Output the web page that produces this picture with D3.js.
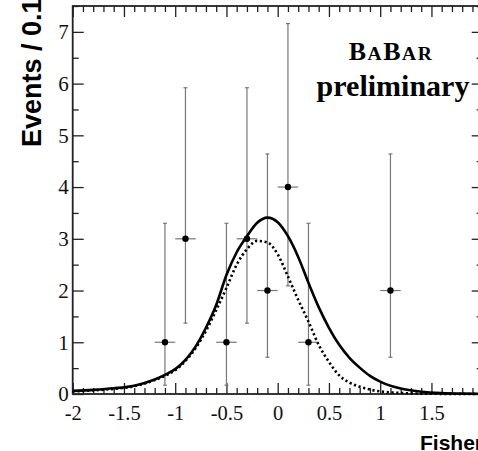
<!DOCTYPE html>
<html><head><meta charset="utf-8">
<script src="https://cdn.jsdelivr.net/npm/d3@7"></script>
<style>
html,body{margin:0;padding:0;background:#fff;overflow:hidden}
svg{display:block}
</style></head>
<body>
<svg id="c" width="478" height="451"></svg>
<script>
// ---- data ----
const binCenters = [-1.1, -0.9, -0.5, -0.3, -0.1, 0.1, 0.3, 1.1];
const counts     = [1, 3, 1, 3, 2, 4, 1, 2];
const errLow     = [0.83, 1.63, 0.83, 1.63, 1.29, 1.91, 0.83, 1.29];
const errHigh    = [2.30, 2.92, 2.30, 2.92, 2.64, 3.16, 2.30, 2.64];
const binHalfWidth = 0.1;

const curveX    = [-2, -1.8, -1.6, -1.4, -1.2, -1.1, -1.0, -0.9, -0.8, -0.7, -0.6, -0.5, -0.4, -0.3, -0.2, -0.1, 0, 0.1, 0.2, 0.3, 0.4, 0.5, 0.6, 0.7, 0.8, 0.9, 1.0, 1.2, 1.4, 1.6, 1.8, 2.0];
const totalFit  = [0.06, 0.08, 0.11, 0.16, 0.28, 0.37, 0.48, 0.66, 0.92, 1.28, 1.72, 2.30, 2.74, 3.05, 3.31, 3.41, 3.32, 3.05, 2.65, 2.15, 1.68, 1.28, 0.95, 0.70, 0.51, 0.35, 0.24, 0.105, 0.045, 0.018, 0.007, 0.003];
const signalFit = [0.05, 0.07, 0.10, 0.15, 0.27, 0.35, 0.46, 0.64, 0.89, 1.22, 1.62, 2.05, 2.50, 2.80, 2.96, 2.93, 2.70, 2.27, 1.82, 1.40, 0.95, 0.62, 0.36, 0.22, 0.14, 0.085, 0.05, 0.02, 0.008, 0.003, 0.001, 0];

const xMajorTicks = [-2, -1.5, -1, -0.5, 0, 0.5, 1, 1.5, 2];
const xLabelTicks = [-2, -1.5, -1, -0.5, 0, 0.5, 1, 1.5];
const xTickLabels = ["-2", "-1.5", "-1", "-0.5", "0", "0.5", "1", "1.5"];
const yMajorTicks = [0, 1, 2, 3, 4, 5, 6, 7];
const yTickLabels = ["0", "1", "2", "3", "4", "5", "6", "7"];
const xTitle = "Fisher";
const yTitle = "Events / 0.1";

// ---- layout ----
const L = 72.7, R = 482.7, T = 6, B = 394;
const x = d3.scaleLinear().domain([-2, 2]).range([L, R]);
const y = d3.scaleLinear().domain([0, 7.5]).range([B, T]);
const svg = d3.select("#c");

const xMinor = d3.range(-20, 21).map(d => d / 10).filter(v => xMajorTicks.indexOf(v) < 0);
const yMinor = d3.range(0, 15).map(d => d / 2 + 0.5).filter(v => v <= 7.5 && yMajorTicks.indexOf(v) < 0);

function tickAxis(axisGen, tr) {
  const g = svg.append("g").attr("transform", tr).call(axisGen);
  g.select(".domain").remove();
  g.selectAll("line").attr("stroke", "#222").attr("stroke-width", 1.3);
  g.selectAll("text").remove();
  return g;
}
// ticks (pointing inward)
tickAxis(d3.axisBottom(x).tickValues(xMajorTicks).tickSize(-11), `translate(0,${B})`);
tickAxis(d3.axisBottom(x).tickValues(xMinor).tickSize(-6), `translate(0,${B})`);
tickAxis(d3.axisTop(x).tickValues(xMajorTicks).tickSize(-11), `translate(0,${T})`);
tickAxis(d3.axisTop(x).tickValues(xMinor).tickSize(-6), `translate(0,${T})`);
tickAxis(d3.axisLeft(y).tickValues(yMajorTicks).tickSize(-11), `translate(${L},0)`);
tickAxis(d3.axisLeft(y).tickValues(yMinor).tickSize(-6), `translate(${L},0)`);
tickAxis(d3.axisRight(y).tickValues(yMajorTicks).tickSize(-11), `translate(${R},0)`);
tickAxis(d3.axisRight(y).tickValues(yMinor).tickSize(-6), `translate(${R},0)`);

// labels
const xl = svg.append("g").attr("transform", `translate(0,${B})`)
  .call(d3.axisBottom(x).tickValues(xLabelTicks).tickSize(0).tickPadding(11)
    .tickFormat((d, i) => xTickLabels[i]));
xl.select(".domain").remove();
xl.selectAll("text").attr("font-family", "'Liberation Serif', serif").attr("font-size", 20.5).attr("fill", "#111");

const yl = svg.append("g").attr("transform", `translate(${L},0)`)
  .call(d3.axisLeft(y).tickValues(yMajorTicks).tickSize(0).tickPadding(4)
    .tickFormat((d, i) => yTickLabels[i]));
yl.select(".domain").remove();
yl.selectAll("text").attr("font-family", "'Liberation Serif', serif").attr("font-size", 21).attr("fill", "#111");

// frame
svg.append("rect").attr("x", L).attr("y", T).attr("width", R - L).attr("height", B - T)
  .attr("fill", "none").attr("stroke", "#222").attr("stroke-width", 1.8);

// error bars
const pts = binCenters.map((c, i) => ({c, n: counts[i], lo: errLow[i], hi: errHigh[i]}));
const eg = svg.append("g").attr("stroke", "#777").attr("stroke-width", 1.2);
eg.selectAll("line.v").data(pts).join("line").attr("class", "v")
  .attr("x1", d => x(d.c)).attr("x2", d => x(d.c))
  .attr("y1", d => y(d.n - d.lo)).attr("y2", d => y(d.n + d.hi));
eg.selectAll("line.h").data(pts).join("line").attr("class", "h")
  .attr("x1", d => x(d.c - binHalfWidth)).attr("x2", d => x(d.c + binHalfWidth))
  .attr("y1", d => y(d.n)).attr("y2", d => y(d.n));
eg.selectAll("line.t").data(pts).join("line").attr("class", "t")
  .attr("x1", d => x(d.c) - 2).attr("x2", d => x(d.c) + 2)
  .attr("y1", d => y(d.n + d.hi)).attr("y2", d => y(d.n + d.hi));
eg.selectAll("line.b").data(pts).join("line").attr("class", "b")
  .attr("x1", d => x(d.c) - 2).attr("x2", d => x(d.c) + 2)
  .attr("y1", d => y(d.n - d.lo)).attr("y2", d => y(d.n - d.lo));

// curves
const line = d3.line().x(d => x(d[0])).y(d => y(d[1])).curve(d3.curveMonotoneX);
svg.append("path").datum(curveX.map((v, i) => [v, signalFit[i]]))
  .attr("d", line).attr("fill", "none").attr("stroke", "#000")
  .attr("stroke-width", 2.6).attr("stroke-dasharray", "2.2,2.6");
svg.append("path").datum(curveX.map((v, i) => [v, totalFit[i]]))
  .attr("d", line).attr("fill", "none").attr("stroke", "#000").attr("stroke-width", 2.6);

// points
svg.append("g").selectAll("circle").data(pts).join("circle")
  .attr("cx", d => x(d.c)).attr("cy", d => y(d.n)).attr("r", 3.2).attr("fill", "#000");

// titles
svg.append("text").attr("x", 483).attr("y", 450).attr("text-anchor", "end")
  .attr("font-family", "'Liberation Sans', Arial, sans-serif").attr("font-weight", "bold")
  .attr("font-size", 21).attr("fill", "#000").text(xTitle);
svg.append("text").attr("transform", "translate(41,147) rotate(-90)")
  .attr("font-family", "'Liberation Sans', Arial, sans-serif").attr("font-weight", "bold")
  .attr("font-size", 27).attr("fill", "#000").text(yTitle);

// BaBar logo
const logo = svg.append("text").attr("x", 391).attr("y", 60).attr("text-anchor", "middle")
  .attr("font-family", "'Liberation Serif', 'Times New Roman', serif").attr("font-weight", "bold")
  .attr("letter-spacing", 1.5).attr("fill", "#000");
[["B", 26], ["A", 19.5], ["B", 26], ["AR", 19.5]].forEach(([t, s]) => logo.append("tspan").attr("font-size", s).text(t));
svg.append("text").attr("x", 393).attr("y", 96).attr("text-anchor", "middle")
  .attr("font-family", "'Liberation Serif', 'Times New Roman', serif").attr("font-weight", "bold")
  .attr("font-size", 30).attr("fill", "#000").text("preliminary");
</script>
</body></html>
